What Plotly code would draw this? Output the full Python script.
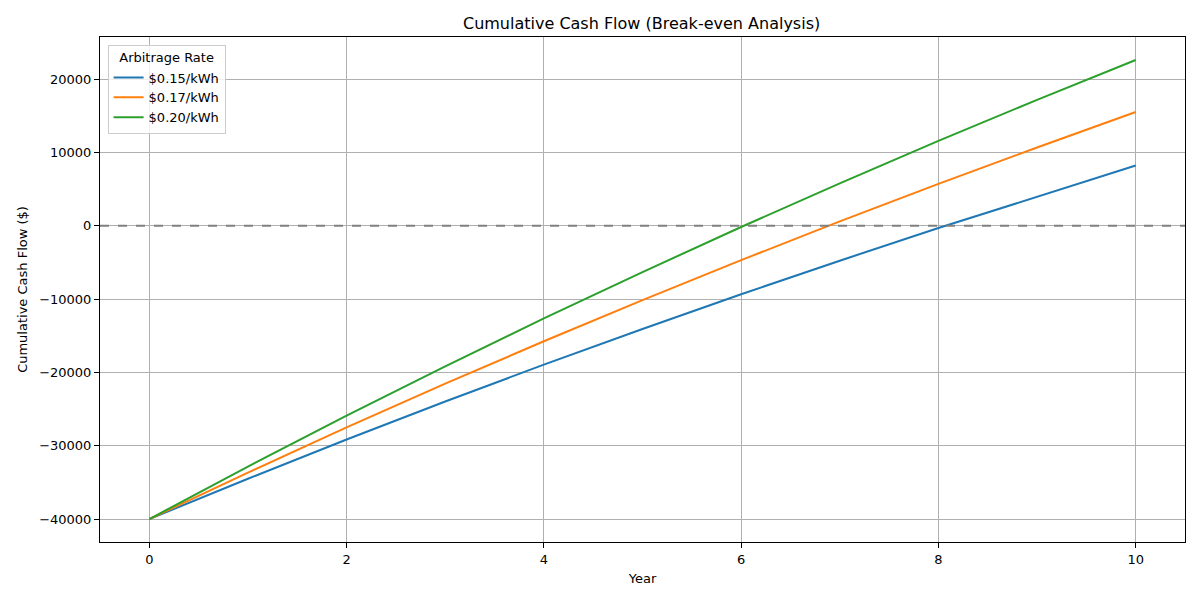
import plotly.graph_objects as go

years = [0, 1, 2, 3, 4, 5, 6, 7, 8, 9, 10]

rate_labels = ["$0.15/kWh", "$0.17/kWh", "$0.20/kWh"]
line_colors = ["#1f77b4", "#ff7f0e", "#2ca02c"]

# cumulative cash flow ($)
cash_015 = [-40000, -34500, -29150, -23970, -18950, -14080, -9350, -4770, -320, 3990, 8200]
cash_017 = [-40000, -33660, -27510, -21540, -15760, -10150, -4700, 580, 5700, 10670, 15500]
cash_020 = [-40000, -32850, -25910, -19180, -12650, -6320, -180, 5780, 11560, 17160, 22600]

series = [cash_015, cash_017, cash_020]

x_ticks = [0, 2, 4, 6, 8, 10]
y_ticks = [-40000, -30000, -20000, -10000, 0, 10000, 20000]
y_tick_text = ["\u221240000", "\u221230000", "\u221220000", "\u221210000", "0", "10000", "20000"]

fig = go.Figure()

for label, color, values in zip(rate_labels, line_colors, series):
    fig.add_trace(go.Scatter(
        x=years,
        y=values,
        mode="lines",
        name=label,
        line=dict(color=color, width=2),
    ))

# break-even line
fig.add_shape(
    type="line", xref="paper", yref="y",
    x0=0, x1=1, y0=0, y1=0,
    line=dict(color="#808080", width=2, dash="dash"),
    layer="above",
)

axis_style = dict(
    showline=True, linecolor="black", linewidth=1, mirror=True,
    ticks="outside", ticklen=5, tickcolor="black", tickwidth=1,
    showgrid=True, gridcolor="#b0b0b0", gridwidth=1,
    zeroline=False,
    tickfont=dict(family="DejaVu Sans", size=13, color="black"),
)

# page body adds 8px offset, margins compensate for it
fig.update_layout(
    width=1200, height=600,
    paper_bgcolor="white", plot_bgcolor="white",
    margin=dict(l=92, r=23, t=29, b=66),
    font=dict(family="DejaVu Sans", size=13, color="black"),
    title=dict(
        text="Cumulative Cash Flow (Break-even Analysis)",
        x=0.528, xanchor="center",
        y=0.975, yanchor="middle",
        font=dict(family="DejaVu Sans", size=16, color="black"),
    ),
    xaxis=dict(
        axis_style,
        automargin=False,
        range=[-0.5, 10.5],
        tickvals=x_ticks,
        title=dict(text="Year", standoff=8, font=dict(size=13)),
    ),
    yaxis=dict(
        axis_style,
        automargin=False,
        range=[-43130, 25730],
        tickvals=y_ticks,
        ticktext=y_tick_text,
        title=dict(text="Cumulative Cash Flow ($)", standoff=8, font=dict(size=13)),
    ),
    legend=dict(
        title=dict(text="Arbitrage Rate", side="top center", font=dict(size=13)),
        x=0.007, y=0.985, xanchor="left", yanchor="top",
        bgcolor="rgba(255,255,255,0.8)",
        bordercolor="#cccccc", borderwidth=1,
        font=dict(family="DejaVu Sans", size=13),
        tracegroupgap=0,
    ),
    showlegend=True,
)

fig.write_html("out.html", config={"displayModeBar": False})
